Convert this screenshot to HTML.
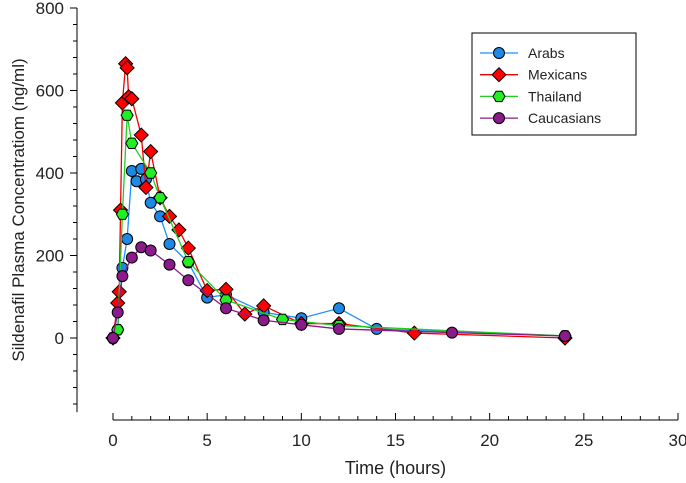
<!DOCTYPE html>
<html><head><meta charset="utf-8"><style>
body{margin:0;background:#fff}
svg{display:block;font-family:"Liberation Sans",Arial,sans-serif}
</style></head><body>
<svg id="c" width="686" height="483"></svg>
<script>
const arabsT=[0,0.25,0.5,0.75,1,1.25,1.5,1.75,2,2.5,3,4,5,6,8,10,12,14,24];
const arabsV=[0,20,170,240,405,380,410,385,328,295,228,183,98,105,62,48,72,22,5];
const mexT=[0,0.25,0.33,0.4,0.5,0.67,0.75,0.83,1,1.5,1.75,2,2.5,3,3.5,4,5,6,7,8,10,12,16,24];
const mexV=[0,85,112,310,570,665,655,585,580,492,365,452,340,295,262,218,115,118,58,78,35,35,12,0];
const thaiT=[0,0.25,0.5,0.75,1,2,2.5,4,6,9,12,24];
const thaiV=[0,20,300,540,472,400,340,185,92,45,30,5];
const cauT=[0,0.25,0.5,1,1.5,2,3,4,6,8,10,12,18,24];
const cauV=[0,62,150,195,220,212,178,140,72,43,32,22,13,5];
const yTicks=[0,200,400,600,800];
const xTicks=[0,5,10,15,20,25,30];
const NS="http://www.w3.org/2000/svg",svg=document.getElementById('c');
const X=t=>113+t*(678-113)/30, Y=v=>338-v*0.4125;
function mk(tag,a,p){const e=document.createElementNS(NS,tag);for(const k in a)e.setAttribute(k,a[k]);(p||svg).appendChild(e);return e;}
// y axis
let ya=mk('g',{});
mk('line',{x1:77,y1:Y(800),x2:77,y2:Y(-180),stroke:'#000'},ya);
for(let v=-160;v<=800;v+=40){mk('line',{x1:77,y1:Y(v),x2:yTicks.includes(v)?70:73,y2:Y(v),stroke:'#000'},ya);}
yTicks.forEach(v=>{let t=mk('text',{x:64,y:Y(v)+6,'text-anchor':'end','font-size':17,fill:'#222'},ya);t.textContent=v;});
let yt=mk('text',{x:0,y:0,'font-size':17,fill:'#222','text-anchor':'middle',transform:'translate(24,210) rotate(-90)'});yt.textContent='Sildenafil Plasma Concentratiom (ng/ml)';

// x axis
let xa=mk('g',{});
mk('line',{x1:X(0),y1:420,x2:X(30),y2:420,stroke:'#000'},xa);
for(let t=0;t<=30;t++){mk('line',{x1:X(t),y1:420,x2:X(t),y2:xTicks.includes(t)?413:416,stroke:'#000'},xa);}
xTicks.forEach(v=>{let t=mk('text',{x:X(v),y:446,'text-anchor':'middle','font-size':17,fill:'#222'},xa);t.textContent=v;});
let xt=mk('text',{x:X(15),y:474,'text-anchor':'middle','font-size':18,fill:'#222'});xt.textContent='Time (hours)';

function marker(g,shape,x,y,col){
 if(shape=='c')return mk('circle',{cx:x,cy:y,r:5.5,fill:col,stroke:'#000','stroke-width':1},g);
 if(shape=='d')return mk('polygon',{points:`${x},${y-7} ${x+7},${y} ${x},${y+7} ${x-7},${y}`,fill:col,stroke:'#000','stroke-width':1},g);
 let p=[];for(let i=0;i<6;i++){let a=Math.PI/3*i;p.push((x+6*Math.cos(a)).toFixed(1)+','+(y+6*Math.sin(a)).toFixed(1));}
 return mk('polygon',{points:p.join(' '),fill:col,stroke:'#000','stroke-width':1},g);
}
const series=[['arabs',arabsT,arabsV,'#1e90ff','#1e88e5','c'],['mexicans',mexT,mexV,'#e00','#f00','d'],['thailand',thaiT,thaiV,'#2c2','#22ee22','h'],['caucasians',cauT,cauV,'#8b1a8b','#8b1a8b','c']];
series.forEach(s=>{
 let g=mk('g',{});
 mk('polyline',{points:s[1].map((t,i)=>X(t)+','+Y(s[2][i])).join(' '),fill:'none',stroke:s[3],'stroke-width':1.3},g);
 s[1].forEach((t,i)=>{let m=marker(g,s[5],X(t),Y(s[2][i]),s[4]);});
});
// legend
let lg=mk('g',{});
mk('rect',{x:472,y:33,width:164,height:102,fill:'#fff',stroke:'#000'},lg);
const names=['Arabs','Mexicans','Thailand','Caucasians'];
series.forEach((s,i)=>{let y=53+i*21.7;
 let e=mk('g',{},lg);
 mk('line',{x1:480,y1:y,x2:518,y2:y,stroke:s[3],'stroke-width':1.3},e);marker(e,s[5],499,y,s[4]);
 let t=mk('text',{x:528,y:y+5,'font-size':14,fill:'#222'},e);t.textContent=names[i];});
</script>
</body></html>
